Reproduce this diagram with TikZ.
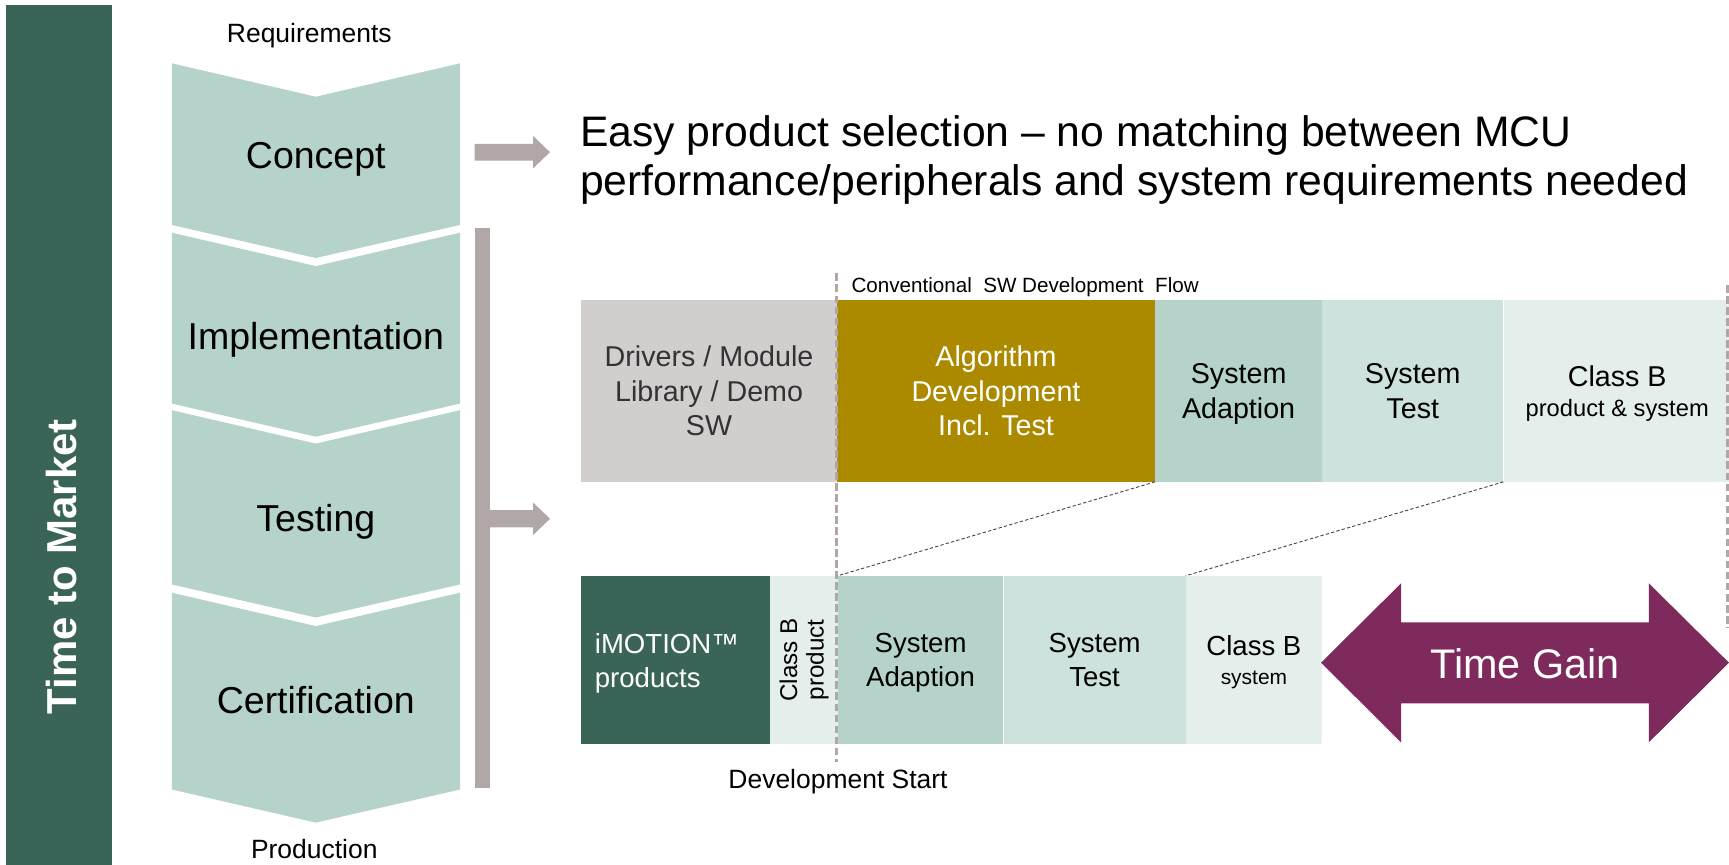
\documentclass[tikz,border=0pt]{standalone}
\usepackage{fontspec}
\setmainfont{Liberation Sans}
\usepackage{tikz}
\usepackage{xcolor}
\usetikzlibrary{positioning}
\definecolor{ttmgreen}{RGB}{58,100,87}
\definecolor{chevteal}{RGB}{181,211,202}
\definecolor{bargray}{RGB}{177,167,167}
\definecolor{drvgray}{RGB}{211,206,206}
\definecolor{algolive}{RGB}{171,138,0}
\definecolor{testteal}{RGB}{205,226,220}
\definecolor{clbteal}{RGB}{228,239,236}
\definecolor{gainpurple}{RGB}{127,42,92}
\newcommand{\fsz}[2]{\fontsize{#1}{#2}\selectfont}

\begin{document}
\begin{tikzpicture}[x=1pt,y=-1pt,
  blk/.style={inner sep=0pt,align=center,text depth=0pt,minimum height=164.8pt,font=\fsz{26}{31.5}},
  blkb/.style={inner sep=0pt,align=center,text depth=0pt,minimum height=152.3pt,font=\fsz{25}{30.5}},
  lbl/.style={inner sep=0pt,font=\fsz{24}{29}},
  chev/.style={fill=chevteal},
  devline/.style={bargray,line width=3pt,dash pattern=on 7pt off 3pt},
  dotline/.style={black!75,line width=0.8pt,dash pattern=on 3pt off 2pt}]
\useasboundingbox(0,0)rectangle(1568,784);
\fill[ttmgreen](5,4.5)rectangle(101.5,784);
\node[rotate=90,anchor=base,inner sep=0pt,text=white,font=\fsz{38}{44}\bfseries](ttm)at(69.5,514){Time to Market};
\foreach \t/\b in {57.4/204,211/366,372/530,537.5/716}
  \fill[chev](155.8,\t)--(286.4,\t+30.3)--(417.2,\t)--(417.2,\b)--(286.4,\b+30)--(155.8,\b)--cycle;
\node[anchor=base,lbl](req)at(280.5,38.7){Requirements};
\node[anchor=base,lbl](prod)at(285,778.4){Production};
\node[anchor=base,inner sep=0pt,font=\fsz{34}{40}](concept)at(286.4,152.7){Concept};
\node[anchor=base,inner sep=0pt,font=\fsz{34}{40}](impl)at(286.4,317.4){Implementation};
\node[anchor=base,inner sep=0pt,font=\fsz{34}{40}](testing)at(286.4,482.2){Testing};
\node[anchor=base,inner sep=0pt,font=\fsz{34}{40}](cert)at(286.4,646.9){Certification};
\fill[bargray](430.4,207)rectangle(444.3,715);
\fill[bargray](430.4,130.4)--(483.5,130.4)--(483.5,123.3)--(498.8,138)--(483.5,152.7)--(483.5,145.6)--(430.4,145.6)--cycle;
\fill[bargray](444.3,462.7)--(483.5,462.7)--(483.5,455.8)--(498.8,470.5)--(483.5,485.2)--(483.5,478.3)--(444.3,478.3)--cycle;
\node[anchor=base west,inner sep=0pt,font=\fsz{38.7}{45}](sel1)at(526,133){Easy product selection – no matching between MCU};
\node[anchor=base west,inner sep=0pt,font=\fsz{38.7}{45}](sel2)at(526,177){performance/peripherals and system requirements needed};
\node[anchor=base west,inner sep=0pt,font=\fsz{18.7}{23}](conv)at(772,265.5){Conventional\ \ SW Development\ \ Flow};
\node[blk,fill=drvgray,text=black!80,minimum width=231.5pt](drv)at(643.05,354.4){Drivers / Module\\Library / Demo\\SW};
\node[blk,fill=algolive,text=white,minimum width=288.1pt,right=0pt of drv](alg){Algorithm\\Development\\Incl. Test};
\node[blk,fill=chevteal,minimum width=151.1pt,right=0pt of alg](sad1){System\\Adaption};
\node[blk,fill=testteal,minimum width=164pt,right=0pt of sad1](stst1){System\\Test};
\node[blk,fill=clbteal,minimum width=206pt,right=0pt of stst1](clb1){Class B\\[-4pt]{\fsz{21.5}{26}product \& system}};
\node[inner xsep=12.2pt,inner ysep=0pt,minimum height=152.3pt,font=\fsz{25}{30.5},fill=ttmgreen,text=white,align=left,text width=146.7pt,text height=24pt,minimum width=171.1pt](imo)at(612.85,598.5){iMOTION™\\products};
\node[rotate=90,inner sep=0pt,align=center,fill=clbteal,minimum width=152.3pt,minimum height=61.5pt,font=\fsz{22}{24}](clbp)at(729.15,598.5){Class B\\product};
\node[blkb,fill=chevteal,minimum width=149.9pt](sad2)at(834.85,598.5){System\\Adaption};
\node[blkb,fill=testteal,minimum width=164.9pt,right=0pt of sad2](stst2){System\\Test};
\node[blkb,fill=clbteal,minimum width=123.3pt,right=0pt of stst2](clbs){Class B\\[-4pt]{\fsz{19}{24}system}};
\fill[gainpurple](1198,601)--(1270.6,529)--(1270.6,564.4)--(1495.3,564.4)--(1495.3,529)--(1568,601)--(1495.3,673.2)--(1495.3,637.8)--(1270.6,637.8)--(1270.6,673.2)--cycle;
\node[anchor=base,inner sep=0pt,text=white,font=\fsz{37.5}{44}](gain)at(1383,615){Time Gain};
\draw[devline](758.8,248)--(758.8,690.7);
\draw[devline](1566.5,258.5)--(1566.5,569.8);
\draw[dotline](sad1.south west)--(sad2.north west);
\draw[dotline](clb1.south west)--(clbs.north west);
\node[anchor=base,lbl](devstart)at(760,715){Development Start};
\end{tikzpicture}
\end{document}
